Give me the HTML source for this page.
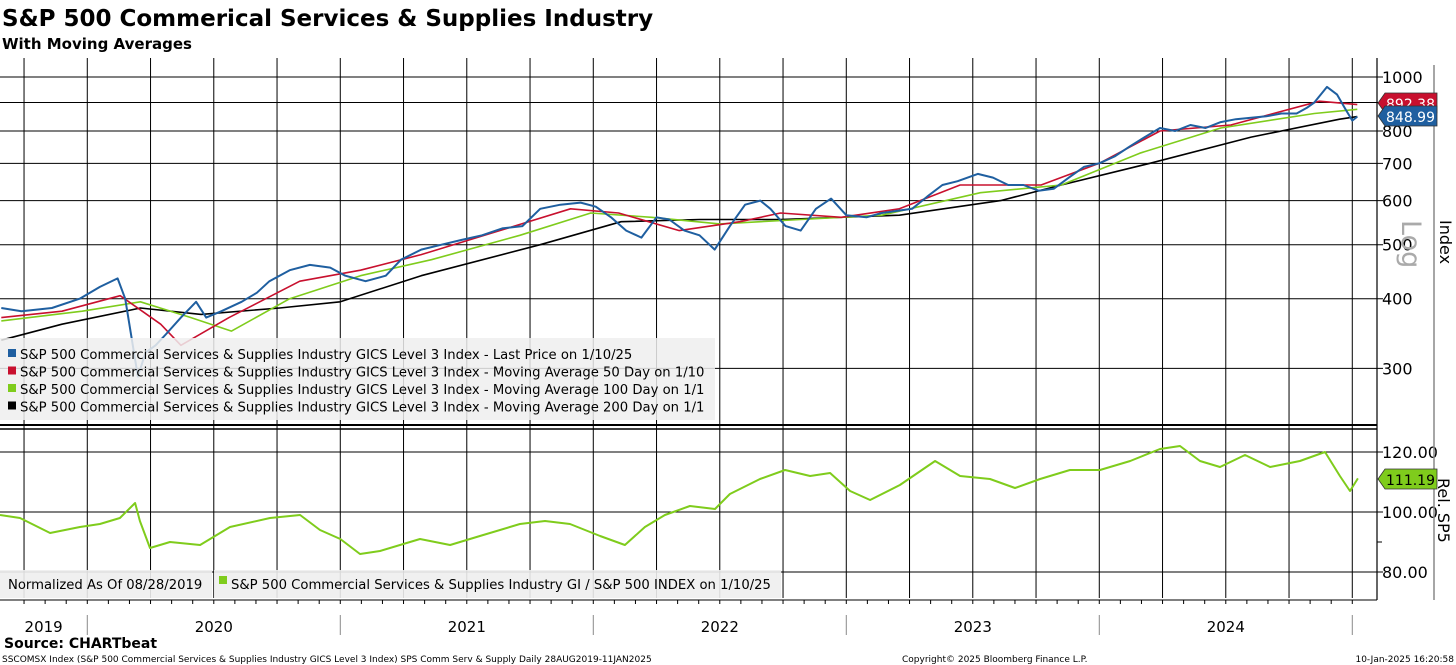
<!DOCTYPE html>
<html><head><meta charset="utf-8">
<style>
body{margin:0;background:#fff;width:1456px;height:665px;overflow:hidden;font-family:"DejaVu Sans","Liberation Sans",sans-serif;}
svg{position:absolute;left:0;top:0}
</style></head>
<body>
<svg id="c" width="1456" height="665" xmlns="http://www.w3.org/2000/svg">
<text x="2" y="26" font-size="23" font-weight="bold" fill="#000">S&amp;P 500 Commerical Services &amp; Supplies Industry</text>
<text x="2" y="49" font-size="15" font-weight="bold" fill="#000">With Moving Averages</text>
<g id="grid"></g>
<g id="series"></g>
<g id="axes"></g>
<g id="legends"></g>
</svg>
<script>
// ---- data (decimal year, value) ----
const priceT=[2019.66,2019.74,2019.86,2019.97,2020.05,2020.12,2020.15,2020.18,2020.2,2020.23,2020.27,2020.31,2020.37,2020.43,2020.47,2020.53,2020.61,2020.67,2020.72,2020.8,2020.88,2020.96,2021.02,2021.1,2021.18,2021.24,2021.32,2021.4,2021.48,2021.56,2021.64,2021.72,2021.79,2021.87,2021.95,2022.01,2022.07,2022.13,2022.19,2022.25,2022.3,2022.36,2022.42,2022.48,2022.54,2022.6,2022.66,2022.7,2022.76,2022.82,2022.88,2022.94,2023.0,2023.08,2023.14,2023.2,2023.26,2023.32,2023.38,2023.44,2023.52,2023.58,2023.64,2023.7,2023.76,2023.82,2023.88,2023.94,2024.0,2024.06,2024.12,2024.18,2024.24,2024.3,2024.36,2024.42,2024.48,2024.54,2024.6,2024.66,2024.72,2024.78,2024.82,2024.85,2024.9,2024.94,2024.97,2025.0,2025.02];
const priceV=[385,380,385,400,420,435,400,330,290,320,330,345,370,395,370,380,395,410,430,450,460,455,440,430,440,470,490,500,510,520,535,540,580,590,595,585,560,530,515,560,555,530,520,490,540,590,600,580,540,530,580,605,565,560,570,575,580,610,640,650,670,660,640,640,625,630,660,690,700,720,750,780,810,800,820,810,830,840,845,850,860,860,880,900,960,930,880,835,849];
const ma50T=[2019.66,2019.9,2020.13,2020.29,2020.37,2020.56,2020.84,2021.08,2021.32,2021.63,2021.91,2022.1,2022.34,2022.58,2022.74,2022.98,2023.21,2023.45,2023.77,2024.0,2024.24,2024.52,2024.87,2025.02];
const ma50V=[370,380,405,360,330,370,430,450,480,530,580,570,530,550,570,560,580,640,640,700,800,820,905,892.38];
const ma100T=[2019.66,2019.98,2020.21,2020.41,2020.57,2020.8,2021.08,2021.36,2021.71,2021.99,2022.23,2022.5,2022.82,2023.14,2023.53,2023.85,2024.16,2024.48,2024.85,2025.02];
const ma100V=[365,380,395,370,350,400,440,470,520,570,560,545,555,565,620,640,730,810,860,875];
const ma200T=[2019.66,2019.9,2020.21,2020.45,2020.76,2021.0,2021.32,2021.79,2022.11,2022.42,2022.74,2023.21,2023.61,2023.85,2024.2,2024.6,2024.95,2025.02];
const ma200V=[337,360,385,375,385,395,440,500,550,555,555,565,600,640,700,780,840,849];
const relT=[2019.655,2019.734,2019.853,2019.971,2020.05,2020.129,2020.189,2020.208,2020.248,2020.327,2020.446,2020.564,2020.722,2020.841,2020.92,2021.0,2021.078,2021.157,2021.315,2021.434,2021.552,2021.71,2021.809,2021.908,2022.027,2022.125,2022.204,2022.283,2022.382,2022.481,2022.54,2022.659,2022.758,2022.857,2022.936,2023.015,2023.094,2023.212,2023.351,2023.45,2023.568,2023.667,2023.766,2023.884,2024.003,2024.122,2024.24,2024.319,2024.398,2024.477,2024.576,2024.675,2024.793,2024.892,2024.951,2024.991,2025.022];
const relV=[99,98,93,95,96,98,103,97,88,90,89,95,98,99,94,91,86,87,91,89,92,96,97,96,92,89,95,99,102,101,106,111,114,112,113,107,104,109,117,112,111,108,111,114,114,117,121,122,117,115,119,115,117,120,112,107,111.19];
const yTicks=[300,400,500,600,700,800,900,1000];
const yTickLabels=["300","400","500","600","700","800","","1000"];
const relTicks=[80,100,120];
const relTickLabels=["80.00","100.00","120.00"];
const years=["2019","2020","2021","2022","2023","2024"];

const NS="http://www.w3.org/2000/svg";
const X0=2019.655, PXY=253, PR=1377;
const xs=t=>(t-X0)*PXY;
const ys=v=>77+242*Math.log(1000/v);
const yr=v=>512-(v-100)*3;
function mk(tag,attrs,parent){const e=document.createElementNS(NS,tag);for(const k in attrs)e.setAttribute(k,attrs[k]);parent.appendChild(e);return e;}
const grid=document.getElementById('grid'),ser=document.getElementById('series'),ax=document.getElementById('axes'),lg=document.getElementById('legends');

for(let y=2019.75;y<2025.01;y+=0.25){const x=xs(y);
 let l=mk('line',{x1:x,x2:x,y1:58,y2:598,stroke:'#000','stroke-width':1},grid);
 
 }
yTicks.forEach((v,i)=>{const y=ys(v);
 let l=mk('line',{x1:0,x2:PR+6,y1:y,y2:y,stroke:'#000','stroke-width':1},grid);
 
 
 if(yTickLabels[i]){let t=mk('text',{x:1382,y:y+6,'font-size':16,fill:'#000'},ax);t.textContent=yTickLabels[i];
 
 }});
relTicks.forEach((v,i)=>{const y=yr(v);
 let l=mk('line',{x1:0,x2:PR+6,y1:y,y2:y,stroke:'#000','stroke-width':1},grid);
 
 
 let t=mk('text',{x:1382,y:y+6,'font-size':16,fill:'#000'},ax);t.textContent=relTickLabels[i];
 
 });
mk('line',{x1:PR,x2:PR+5,y1:yr(90),y2:yr(90),stroke:'#000'},ax);

function line(T,V,f,color,w,name){let d='';T.forEach((t,i)=>{d+=(i?'L':'M')+xs(t).toFixed(1)+','+f(V[i]).toFixed(1);});
 const p=mk('path',{d:d,fill:'none',stroke:color,'stroke-width':w,'stroke-linejoin':'round'},ser);
 
 }
line(ma200T,ma200V,ys,'#000',1.6,'ma200-line');
line(ma100T,ma100V,ys,'#7fcc1c',1.6,'ma100-line');
line(ma50T,ma50V,ys,'#c8102e',1.6,'ma50-line');
line(priceT,priceV,ys,'#1f5fa0',2,'price-line');
line(relT,relV,yr,'#7fcc1c',2,'relative-line');

mk('line',{x1:PR,x2:PR,y1:58,y2:600,stroke:'#000','stroke-width':1.2},ax);
mk('line',{x1:0,x2:PR,y1:425,y2:425,stroke:'#000','stroke-width':2},ax);
mk('line',{x1:0,x2:PR,y1:429,y2:429,stroke:'#000','stroke-width':1.5},ax);
mk('line',{x1:1434,x2:1434,y1:65,y2:600,stroke:'#888','stroke-width':1.5},ax);
mk('line',{x1:0,x2:PR,y1:600,y2:600,stroke:'#000','stroke-width':1},ax);
for(let m=2019.75;m<2025.05;m+=1/12){const x=xs(m);mk('line',{x1:x,x2:x,y1:600,y2:604,stroke:'#000'},ax);}
years.forEach((y,i)=>{const s=Math.max(0,xs(+y)),e=Math.min(1358,xs(+y+1));
 if(i>0)mk('line',{x1:xs(+y),x2:xs(+y),y1:615,y2:635,stroke:'#888'},ax);
 let t=mk('text',{x:(s+e)/2,y:632,'font-size':15,'text-anchor':'middle',fill:'#000'},ax);t.textContent=y;
 
 });
mk('line',{x1:xs(2025),x2:xs(2025),y1:615,y2:635,stroke:'#888'},ax);

function tag(y,txt,bg,name){const g=mk('g',{},ax);
 mk('path',{d:`M1378,${y} L1385,${y-10} L1437,${y-10} L1437,${y+10} L1385,${y+10}Z`,fill:bg,stroke:'#333','stroke-width':0.8},g);
 const t=mk('text',{x:1386,y:y+6,'font-size':14.5,fill:bg=='#7fcc1c'?'#000':'#fff',textLength:49,lengthAdjust:'spacingAndGlyphs'},g);t.textContent=txt;}
tag(103,'892.38','#c8102e','ma50-value-tag');
tag(116,'848.99','#1f5fa0','price-value-tag');
tag(479,'111.19','#7fcc1c','relative-value-tag');

let t1=mk('text',{x:1440,y:220,'font-size':16,fill:'#000',transform:'rotate(90 1440 220)'},ax);t1.textContent='Index';

let t2=mk('text',{x:1402,y:220,'font-size':27,fill:'#aaa',transform:'rotate(90 1402 220)'},ax);t2.textContent='Log';

let t3=mk('text',{x:1438,y:478,'font-size':16,fill:'#000',transform:'rotate(90 1438 478)'},ax);t3.textContent='Rel. SP5';


mk('rect',{x:0,y:338,width:715,height:82,fill:'#eeeeee','fill-opacity':0.85},lg);
const legC=['#1f5fa0','#c8102e','#7fcc1c','#000'];
const legT=['S&P 500 Commercial Services & Supplies Industry GICS Level 3 Index - Last Price on 1/10/25','S&P 500 Commercial Services & Supplies Industry GICS Level 3 Index - Moving Average 50 Day on 1/10','S&P 500 Commercial Services & Supplies Industry GICS Level 3 Index - Moving Average 100 Day on 1/1','S&P 500 Commercial Services & Supplies Industry GICS Level 3 Index - Moving Average 200 Day on 1/1'];
legT.forEach((s,i)=>{const y=355+i*17.5;const g=mk('g',{},lg);
 
 
 mk('rect',{x:8,y:y-6,width:8,height:8,fill:legC[i]},g);
 const t=mk('text',{x:20,y:y+4,'font-size':13.2,fill:'#000'},g);t.textContent=s;});
mk('rect',{x:0,y:570,width:212,height:28,fill:'#eeeeee','fill-opacity':0.9},lg);
mk('rect',{x:214,y:570,width:567,height:28,fill:'#eeeeee','fill-opacity':0.9},lg);
let n=mk('text',{x:8,y:589,'font-size':13.2,fill:'#000'},lg);n.textContent='Normalized As Of 08/28/2019';

mk('rect',{x:219,y:576,width:8,height:8,fill:'#7fcc1c'},lg);
let n2=mk('text',{x:231,y:589,'font-size':13.2,fill:'#000'},lg);n2.textContent='S&P 500 Commercial Services & Supplies Industry GI / S&P 500 INDEX on 1/10/25';


let s=mk('text',{x:4,y:648,'font-size':14,'font-weight':'bold',fill:'#000'},ax);s.textContent='Source: CHARTbeat';

let f1=mk('text',{x:2,y:662,'font-size':9,fill:'#000'},ax);f1.textContent='SSCOMSX Index (S&P 500 Commercial Services & Supplies Industry GICS Level 3 Index) SPS Comm Serv & Supply  Daily 28AUG2019-11JAN2025';

let f2=mk('text',{x:902,y:662,'font-size':9,fill:'#000'},ax);f2.textContent='Copyright© 2025 Bloomberg Finance L.P.';

let f3=mk('text',{x:1454,y:662,'font-size':9,fill:'#000','text-anchor':'end'},ax);f3.textContent='10-Jan-2025 16:20:58';

</script>
</body></html>
